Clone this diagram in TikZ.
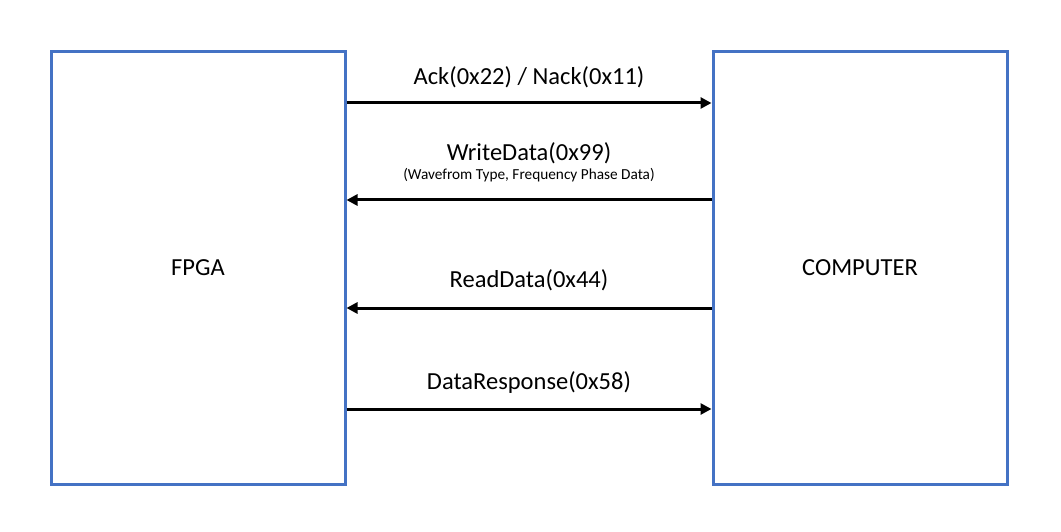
\documentclass[tikz,border=0pt]{standalone}
\usepackage{fontspec}
\setmainfont{Carlito}
\usetikzlibrary{arrows.meta}
\definecolor{boxblue}{HTML}{4472C4}
\tikzset{
  blk/.style={draw=boxblue, line width=3pt, minimum width=294pt, minimum height=432pt, inner sep=0pt, font=\fontsize{24.5}{29}\selectfont},
  msg/.style={draw=black, line width=3pt, -{Triangle[length=11pt,width=11pt]}},
  lbl/.style={font=\fontsize{24.5}{29}\selectfont, inner sep=0pt},
  sub/.style={font=\fontsize{15.3}{18}\selectfont, inner sep=0pt}
}
\begin{document}
\begin{tikzpicture}[x=1pt,y=-1pt]
\useasboundingbox (0,0) rectangle (1061,532);
\node[blk] (fpga) at (198,268) {FPGA};
\node[blk] (comp) at (860,268) {COMPUTER};
\coordinate (f1) at (fpga.east |- 0,103);
\coordinate (c1) at (comp.west |- 0,103);
\coordinate (f2) at (fpga.east |- 0,200);
\coordinate (c2) at (comp.west |- 0,200);
\coordinate (f3) at (fpga.east |- 0,308);
\coordinate (c3) at (comp.west |- 0,308);
\coordinate (f4) at (fpga.east |- 0,409);
\coordinate (c4) at (comp.west |- 0,409);
\draw[msg] (f1) -- (c1);
\draw[msg] (c2) -- (f2);
\draw[msg] (c3) -- (f3);
\draw[msg] (f4) -- (c4);
\node[lbl] (l1) at (529,77) {Ack(0x22) / Nack(0x11)};
\node[lbl] (l2) at (529,153) {WriteData(0x99)};
\node[sub] (l2b) at (529,175) {(Wavefrom Type, Frequency Phase Data)};
\node[lbl] (l3) at (529,280) {ReadData(0x44)};
\node[lbl] (l4) at (529,383) {DataResponse(0x58)};
\end{tikzpicture}
\end{document}
